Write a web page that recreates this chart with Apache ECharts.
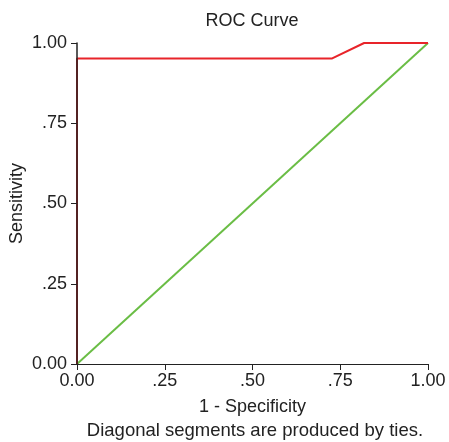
<!DOCTYPE html>
<html><head><meta charset="utf-8">
<script src="https://cdn.jsdelivr.net/npm/echarts@6/dist/echarts.min.js"></script>
<style>html,body{margin:0;padding:0;background:#fff}#c{width:449px;height:442px}</style>
</head><body><div id="c"></div>
<script>
const rocX = [0, 0, 0.727, 0.818, 1];
const rocY = [0, 0.952, 0.952, 1, 1];
const refX = [0, 1];
const refY = [0, 1];
const tickLabels = {0: '0.00', 0.25: '.25', 0.5: '.50', 0.75: '.75', 1: '1.00'};
const fmt = v => tickLabels[v] !== undefined ? tickLabels[v] : '';
const chart = echarts.init(document.getElementById('c'));
const font = 'Liberation Sans, Arial, sans-serif';
chart.setOption({
  animation: false,
  title: [
    {text: 'ROC Curve', left: 252, top: 12, textAlign: 'center', padding: 0,
     textStyle: {fontFamily: font, fontSize: 18, fontWeight: 'normal', color: '#222'}},
    {text: 'Diagonal segments are produced by ties.', left: 255, top: 421, textAlign: 'center', padding: 0,
     textStyle: {fontFamily: font, fontSize: 18.5, fontWeight: 'normal', color: '#222'}}
  ],
  grid: {left: 77, right: 21, top: 43, bottom: 78, containLabel: false, outerBoundsMode: 'none'},
  xAxis: {
    type: 'value', min: 0, max: 1, interval: 0.25, z: 10,
    name: '1 - Specificity', nameLocation: 'middle', nameGap: 34, nameMoveOverlap: false,
    nameTextStyle: {fontFamily: font, fontSize: 18, color: '#222'},
    axisLine: {show: true, onZero: false, lineStyle: {color: '#222', width: 1}},
    axisTick: {show: true, length: 6, lineStyle: {color: '#222'}},
    axisLabel: {formatter: fmt, fontFamily: font, fontSize: 18, color: '#222', margin: 8},
    splitLine: {show: false}
  },
  yAxis: {
    type: 'value', min: 0, max: 1, interval: 0.25, z: 10,
    name: 'Sensitivity', nameLocation: 'middle', nameGap: 51, nameRotate: 90, nameMoveOverlap: false,
    nameTextStyle: {fontFamily: font, fontSize: 18, color: '#222'},
    axisLine: {show: true, onZero: false, lineStyle: {color: '#222', width: 1.5}},
    axisTick: {show: true, length: 6, lineStyle: {color: '#222'}},
    axisLabel: {formatter: fmt, fontFamily: font, fontSize: 18, color: '#222', margin: 10},
    splitLine: {show: false}
  },
  series: [
    {type: 'line', data: refX.map((x, i) => [x, refY[i]]), symbol: 'none',
     lineStyle: {color: '#6abd45', width: 2}, z: 2},
    {type: 'line', data: rocX.map((x, i) => [x, rocY[i]]), symbol: 'none',
     lineStyle: {color: '#e8242a', width: 2}, z: 3}
  ]
});
</script></body></html>
